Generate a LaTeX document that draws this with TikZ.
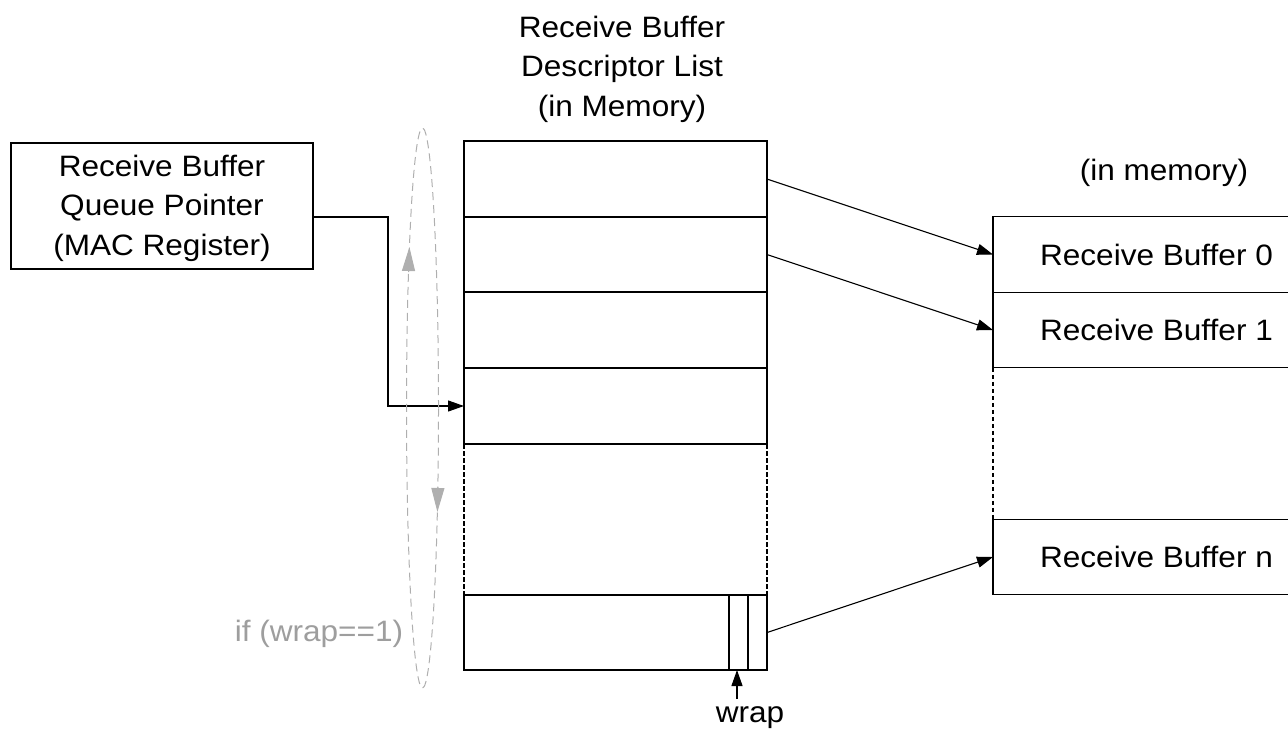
\documentclass[tikz,border=0pt]{standalone}
\usepackage{fontspec}
\setmainfont{Liberation Sans}[FakeStretch=1.07]
\usetikzlibrary{arrows.meta,shapes.geometric}
\definecolor{txtgray}{RGB}{158,158,158}
\definecolor{loopgray}{RGB}{175,175,175}
\tikzset{
  x=1pt, y=-1pt,
  base/.style={inner sep=0pt, outer sep=0pt, line width=1.1pt},
  row/.style={base, draw, minimum width=303pt, minimum height=76pt},
  buf/.style={base, draw, minimum width=327pt, minimum height=75.5pt, font=\fontsize{29.5}{39.5}\selectfont},
  lbl/.style={inner sep=0pt, align=center, font=\fontsize{29.5}{39.5}\selectfont},
  arr/.style={line width=1.1pt, -{Triangle[length=16pt,width=11pt]}},
  garr/.style={color=loopgray, line width=1pt, -{Triangle[length=24pt,width=13pt]}},
  dsh/.style={line width=1.1pt, dash pattern=on 4.5pt off 2.5pt},
}
\begin{document}
\begin{tikzpicture}
\clip (0,0) rectangle (1288,729);
\useasboundingbox (0,0) rectangle (1288,729);

% title
\node[lbl] (title) at (622,69) {Receive Buffer\\Descriptor List\\(in Memory)};

% pointer register
\node[base, draw, minimum width=302pt, minimum height=126pt] (q) at (162,206) {};
\node[lbl] (qtxt) at ([yshift=-2pt]q.center) {Receive Buffer\\Queue Pointer\\(MAC Register)};

% descriptor list
\node[row] (d1) at (615.5,179) {};
\node[row] (d2) at (615.5,254.5) {};
\node[row] (d3) at (615.5,330) {};
\node[row] (d4) at (615.5,406) {};
\node[row, minimum height=75pt] (d5) at (615.5,632.5) {};
\draw[dsh] (d4.south west) -- (d5.north west);
\draw[dsh] (d4.south east) -- (d5.north east);
\node[base, draw, minimum width=19pt, minimum height=75pt, anchor=east] (wb2) at (d5.east) {};
\node[base, draw, minimum width=19pt, minimum height=75pt, anchor=east] (wbit) at (wb2.west) {};

% receive buffers
\node[lbl] (mem) at (1164,173) {(in memory)};
\node[buf] (b0) at (1156.5,254.5) {Receive Buffer 0};
\node[buf] (b1) at (1156.5,330) {Receive Buffer 1};
\node[buf] (bn) at (1156.5,557) {Receive Buffer n};
\draw[dsh] (b1.south west) -- (bn.north west);

% pointers
\draw[arr] (d1.east) -- (b0.west);
\draw[arr] (d2.east) -- (b1.west);
\draw[arr] (d5.east) -- (bn.west);
\draw[arr] ([yshift=-11pt]q.east) -- ++(75,0) |- (d4.west);

% wrap
\node[lbl, anchor=base] (wrap) at (750,722) {wrap};
\coordinate (wt) at (737,699);
\draw[arr] (wt) -- (wt |- wbit.south);

% loop
\node[ellipse, draw=loopgray, line width=1pt, dash pattern=on 8pt off 5pt,
      minimum width=32pt, minimum height=560pt, inner sep=0pt] (loop) at (422.5,408) {};
\draw[garr] (408.5,272) -- (409.4,247);
\draw[garr] (437.9,487) -- (437.4,512);
\node[lbl, text=txtgray] (cond) at (319,634) {if (wrap==1)};
\end{tikzpicture}
\end{document}
